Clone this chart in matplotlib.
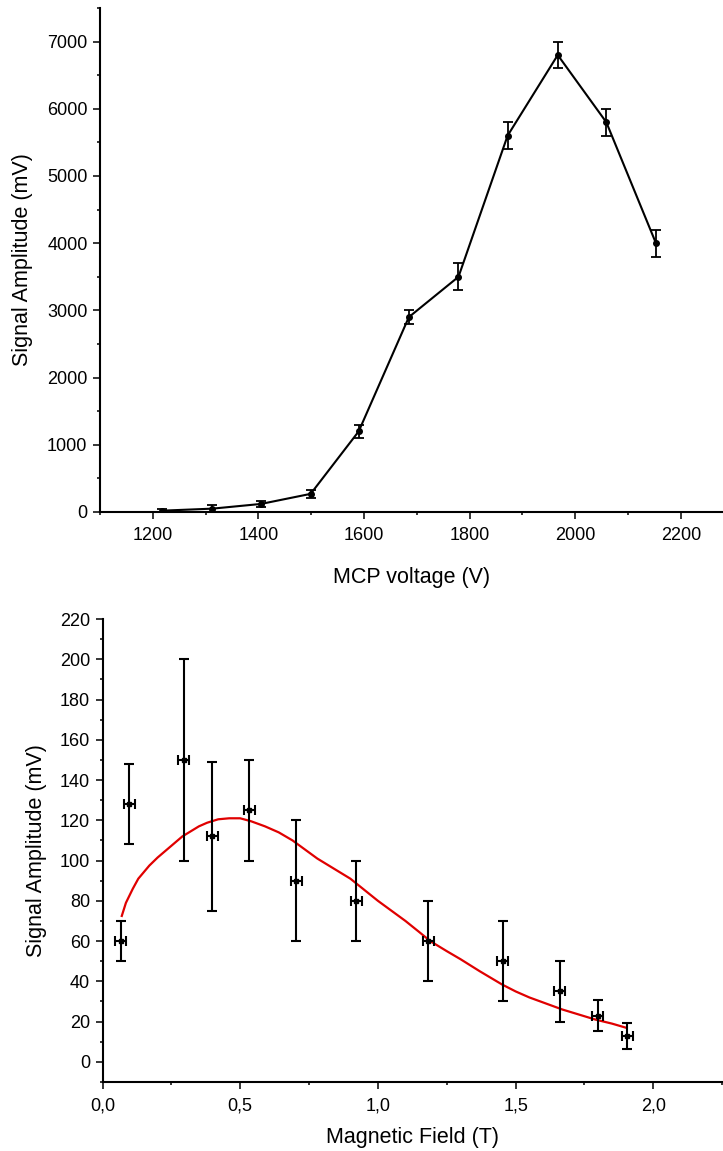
import numpy as np
import matplotlib
matplotlib.use("Agg")
import matplotlib.pyplot as plt
from matplotlib.ticker import MultipleLocator, FuncFormatter

plt.rcParams['font.family'] = ['Liberation Sans', 'DejaVu Sans']

# top panel: signal vs MCP voltage
mcp_voltage = [1218, 1313, 1405, 1499, 1590, 1685, 1779, 1872, 1967, 2059, 2153]
mcp_signal = [20, 50, 120, 270, 1200, 2900, 3500, 5600, 6800, 5800, 4000]
mcp_err = [30, 50, 50, 55, 100, 100, 200, 200, 200, 200, 200]

# bottom panel: signal vs magnetic field
field = [0.067, 0.097, 0.295, 0.398, 0.533, 0.703, 0.922, 1.182, 1.453, 1.66, 1.799, 1.906]
field_signal = [60, 128, 150, 112, 125, 90, 80, 60, 50, 35, 23, 13]
field_signal_err = [10, 20, 50, 37, 25, 30, 20, 20, 20, 15, 7.5, 6.5]
field_err = [0.02] * 12

# red fit curve
fit_x = [0.07, 0.085, 0.11, 0.13, 0.17, 0.20, 0.23, 0.29, 0.35, 0.38, 0.42, 0.46,
         0.50, 0.54, 0.59, 0.64, 0.69, 0.735, 0.78, 0.84, 0.90, 0.95, 1.00,
         1.05, 1.10, 1.15, 1.19, 1.25, 1.30, 1.37, 1.45, 1.50, 1.55, 1.60,
         1.67, 1.73, 1.79, 1.85, 1.90]
fit_y = [72.5, 79, 86, 91, 97.5, 101.5, 105, 112, 117, 118.8, 120.5, 121,
         121, 119.5, 117, 114, 110, 105.5, 101, 96, 91, 85.5, 80,
         75, 70, 64.5, 60, 55, 51, 45, 38.5, 35, 32, 29.5,
         26, 23.5, 21, 19, 17]

W, H = 723, 1151
fig = plt.figure(figsize=(W / 100, H / 100), dpi=100)


def px_axes(left, top, right, bottom):
    return fig.add_axes([left / W, 1 - bottom / H, (right - left) / W, (bottom - top) / H])


def style(ax):
    for s in ['top', 'right']:
        ax.spines[s].set_visible(False)
    for s in ['left', 'bottom']:
        ax.spines[s].set_linewidth(1.5)
    ax.tick_params(which='major', direction='out', length=5, width=1.1,
                   labelsize=13, pad=4)
    ax.tick_params(which='minor', direction='out', length=2.5, width=1.1)
    ax.tick_params(axis='x', which='major', pad=6)


# top
ax1 = px_axes(100, 8, 723, 512)
ax1.errorbar(mcp_voltage, mcp_signal, yerr=mcp_err, color='black', lw=1.5,
             marker='o', ms=4, capsize=3.6, elinewidth=1.3, capthick=1.3)
ax1.set_xlim(1100, 2280)
ax1.set_ylim(0, 7500)
ax1.xaxis.set_major_locator(MultipleLocator(200))
ax1.xaxis.set_minor_locator(MultipleLocator(100))
ax1.yaxis.set_major_locator(MultipleLocator(1000))
ax1.yaxis.set_minor_locator(MultipleLocator(500))
style(ax1)
ax1.set_xlabel('MCP voltage (V)', fontsize=15.5, va='center')
ax1.set_ylabel('Signal Amplitude (mV)', fontsize=15.5, va='center')
ax1.xaxis.set_label_coords(0.5, -0.129)
ax1.yaxis.set_label_coords(-0.125, 0.5)

# bottom
ax2 = px_axes(102.5, 619, 723, 1082)
ax2.plot(fit_x, fit_y, color='#e00000', lw=1.6, zorder=1)
ax2.errorbar(field, field_signal, yerr=field_signal_err, xerr=field_err,
             fmt='s', color='black', ms=3.5, capsize=3.6, elinewidth=1.5,
             capthick=1.5, zorder=2)
ax2.set_xlim(0, 2.253)
ax2.set_ylim(-10, 220)
ax2.xaxis.set_major_locator(MultipleLocator(0.5))
ax2.xaxis.set_minor_locator(MultipleLocator(0.25))
ax2.yaxis.set_major_locator(MultipleLocator(20))
ax2.yaxis.set_minor_locator(MultipleLocator(10))
ax2.xaxis.set_major_formatter(FuncFormatter(lambda v, p: f"{v:.1f}".replace('.', ',')))
style(ax2)
ax2.set_xlabel('Magnetic Field (T)', fontsize=15.5, va='center')
ax2.set_ylabel('Signal Amplitude (mV)', fontsize=15.5, va='center')
ax2.xaxis.set_label_coords(0.5, -0.119)
ax2.yaxis.set_label_coords(-0.107, 0.5)

fig.savefig('out.png', dpi=100)
